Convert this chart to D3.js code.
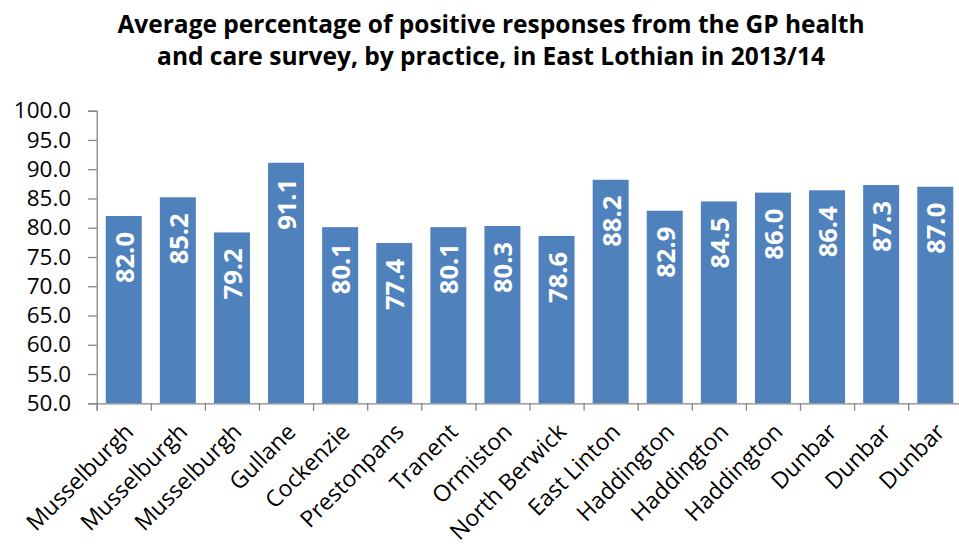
<!DOCTYPE html>
<html>
<head>
<meta charset="utf-8">
<script src="https://cdn.jsdelivr.net/npm/d3@7"></script>
<style>
  html, body { margin: 0; padding: 0; background: #fff; }
  svg { display: block; }
</style>
</head>
<body>
<svg id="chart" width="959" height="547"></svg>
<script>
const categories = ["Musselburgh", "Musselburgh", "Musselburgh", "Gullane", "Cockenzie", "Prestonpans", "Tranent", "Ormiston", "North Berwick", "East Linton", "Haddington", "Haddington", "Haddington", "Dunbar", "Dunbar", "Dunbar"];
const values = [82.0, 85.2, 79.2, 91.1, 80.1, 77.4, 80.1, 80.3, 78.6, 88.2, 82.9, 84.5, 86.0, 86.4, 87.3, 87.0];
const yTicks = [50, 55, 60, 65, 70, 75, 80, 85, 90, 95, 100];
const titleLines = ["Average percentage of positive responses from the GP health", "and care survey, by practice, in East Lothian in 2013/14"];

const FONT = "'Open Sans', 'DejaVu Sans', sans-serif";
const svg = d3.select("#chart");
const left = 96.7, plotTop = 110.7, plotBottom = 403.3;
const step = 54.1;
const data = categories.map((c, i) => ({ i, c, v: values[i] }));

const x = d3.scaleBand().domain(d3.range(categories.length))
  .range([left, left + step * categories.length]).paddingInner(0.335).paddingOuter(0.1675);
const xTicksScale = d3.scaleLinear().domain([0, categories.length]).range([left, left + step * categories.length]);
const y = d3.scaleLinear().domain([50, 100]).range([plotBottom, plotTop]);

// title
svg.append("g").selectAll("text").data(titleLines).join("text")
  .attr("x", 491).attr("y", (d, i) => 33 + i * 32)
  .attr("text-anchor", "middle")
  .style("font-family", FONT).style("font-weight", "bold").style("font-size", "24.5px")
  .attr("fill", "#000").text(d => d);

// bars
svg.append("g").selectAll("rect").data(data).join("rect")
  .attr("x", d => x(d.i)).attr("width", x.bandwidth())
  .attr("y", d => y(d.v)).attr("height", d => plotBottom - y(d.v))
  .attr("fill", "#4F81BD");

// y axis
const yAxis = d3.axisLeft(y).tickValues(yTicks).tickFormat(d3.format(".1f")).tickSize(8.5).tickPadding(17);
const yg = svg.append("g").attr("transform", `translate(${left},0)`).call(yAxis);
yg.select(".domain").attr("stroke", "#868686").attr("stroke-width", 1.3);
yg.selectAll(".tick line").attr("stroke", "#868686").attr("stroke-width", 1.3);
yg.selectAll(".tick text").style("font-family", FONT).style("font-size", "22.5px").attr("fill", "#000");

// x axis (ticks between categories)
const xAxis = d3.axisBottom(xTicksScale).tickValues(d3.range(categories.length + 1)).tickSize(7.5).tickFormat("");
const xg = svg.append("g").attr("transform", `translate(0,${plotBottom})`).call(xAxis);
xg.select(".domain").attr("stroke", "#868686").attr("stroke-width", 1.3);
xg.selectAll(".tick line").attr("stroke", "#868686").attr("stroke-width", 1.3);

// x labels
svg.append("g").selectAll("text").data(data).join("text")
  .attr("transform", d => `translate(${x(d.i) + x.bandwidth() / 2 + 11},${plotBottom + 30}) rotate(-45)`)
  .attr("text-anchor", "end")
  .style("font-family", FONT).style("font-size", "23px")
  .attr("fill", "#000").text(d => d.c);

// data labels
svg.append("g").selectAll("text").data(data).join("text")
  .attr("transform", d => `translate(${x(d.i) + x.bandwidth() / 2},${y(d.v) + 16}) rotate(-90)`)
  .attr("text-anchor", "end").attr("dominant-baseline", "central")
  .style("font-family", FONT).style("font-weight", "bold").style("font-size", "25.5px")
  .attr("fill", "#fff").text(d => d3.format(".1f")(d.v));
</script>
</body>
</html>
